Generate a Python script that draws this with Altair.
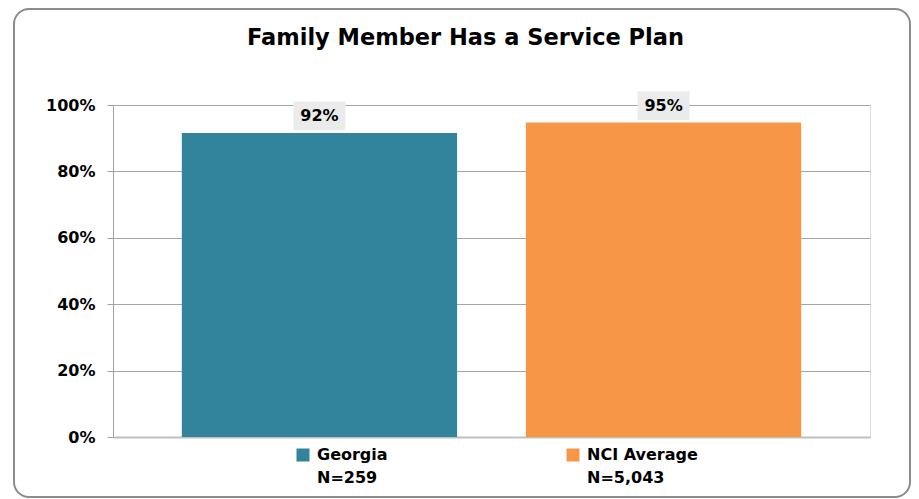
import altair as alt
import pandas as pd

# ---- data ----
categories = ["Georgia", "NCI Average"]
sample_sizes = ["N=259", "N=5,043"]
shares = [0.916, 0.947]
bar_colors = ["#31849B", "#F79646"]
y_ticks = [0, 0.2, 0.4, 0.6, 0.8, 1.0]
title_text = "Family Member Has a Service Plan"

keys = [f"{c}|{n}" for c, n in zip(categories, sample_sizes)]
df = pd.DataFrame({"group": categories, "key": keys, "share": shares})
frame_df = pd.DataFrame({"frame": [1]})

FONT = "DejaVu Sans"
TITLE_FONT = "DejaVu Sans"
FS = 16

x_enc = alt.X(
    "group:N",
    sort=categories,
    scale=alt.Scale(paddingInner=0.2, paddingOuter=0.2),
    axis=alt.Axis(title=None, labels=False, ticks=False, grid=False,
                  domainColor="#BFBFBF", domainWidth=2),
)
y_enc = alt.Y(
    "share:Q",
    scale=alt.Scale(domain=[0, 1], nice=False),
    axis=alt.Axis(title=None, format="%", values=y_ticks, tickSize=6,
                  tickColor="#A0A0A0", domainColor="#A0A0A0", gridColor="#A6A6A6",
                  labelFont=FONT, labelFontSize=FS, labelFontWeight="bold",
                  labelColor="#000000", labelPadding=12),
)

frame = alt.Chart(frame_df).mark_rect(
    fillOpacity=0, stroke="#8C8C8C", strokeWidth=2, cornerRadius=15
).encode(x=alt.value(-99), x2=alt.value(797), y=alt.value(-96), y2=alt.value(392))

bars = alt.Chart(df).mark_bar().encode(
    x=x_enc,
    y=y_enc,
    color=alt.Color(
        "key:N",
        scale=alt.Scale(domain=keys, range=bar_colors),
        legend=alt.Legend(
            title=None, orient="none", legendX=182, legendY=342,
            direction="horizontal", columns=2, columnPadding=177,
            symbolType="square", symbolSize=169,
            symbolStrokeWidth=0, symbolOpacity=1,
            labelExpr="split(datum.label, '|')",
            labelFont=FONT, labelFontSize=FS, labelFontWeight="bold",
            labelColor="#000000", labelOffset=6,
            labelBaseline="middle", labelLimit=0, padding=0,
        ),
    ),
)

label_bg = alt.Chart(df).mark_point(
    shape="M-1,-0.55H1V0.55H-1Z", size=2704, filled=True,
    color="#EBEBEB", opacity=1, yOffset=-17,
).encode(x=alt.X("group:N", sort=categories), y="share:Q")

labels = alt.Chart(df).mark_text(
    font=FONT, fontSize=FS, fontWeight="bold", color="#000000",
    baseline="middle", dy=-17,
).encode(x=alt.X("group:N", sort=categories), y="share:Q",
         text=alt.Text("share:Q", format=".0%"))

chart = alt.layer(frame, bars, label_bg, labels).properties(
    width=757,
    height=332,
    title=alt.TitleParams(title_text, font=TITLE_FONT, fontSize=22.5, fontWeight="bold",
                          color="#000000", anchor="middle", frame="group",
                          baseline="alphabetic", offset=-59, dx=-26),
    autosize=alt.AutoSizeParams(type="none"),
    padding={"left": 105, "top": 97, "right": 41, "bottom": 62},
).configure_view(fill="#EBEBEB", stroke=None).configure(
    background="#FFFFFF",
    style={"guide-label": {"lineHeight": 23}},
)

chart.save("out.html", embed_options={"renderer": "svg", "actions": False})
